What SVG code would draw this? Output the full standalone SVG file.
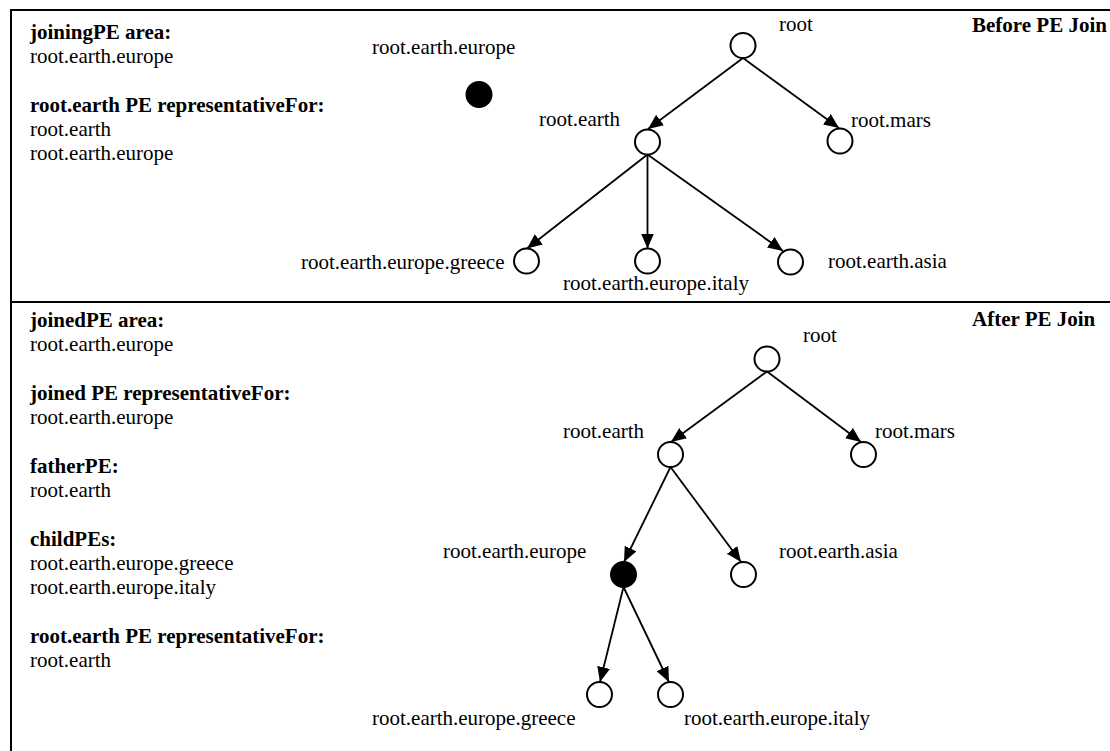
<svg xmlns="http://www.w3.org/2000/svg" width="1110" height="751" viewBox="0 0 1110 751">
  <defs>
    <marker id="arrow" markerUnits="userSpaceOnUse" markerWidth="16" markerHeight="14" refX="15" refY="6.5" orient="auto">
      <path d="M0,0 L15,6.5 L0,13 Z" fill="#000"/>
    </marker>
    <style>
      text { font-family: "Liberation Serif", "Times New Roman", serif; font-size: 21px; fill: #000; }
      .b { font-weight: bold; }
      .frame { stroke: #000; stroke-width: 2; fill: none; }
      .pe { fill: #fff; stroke: #000; stroke-width: 2; }
      .pe.joined { fill: #000; }
      .edge { stroke: #000; stroke-width: 1.8; fill: none; marker-end: url(#arrow); }
    </style>
  </defs>
  <rect width="1110" height="751" fill="#fff"/>

  <!-- frame: top edge, left edge, separator between the two states -->
  <g id="frame">
    <line class="frame" x1="10" y1="10" x2="1110" y2="10"/>
    <line class="frame" x1="11" y1="9" x2="11" y2="751"/>
    <line class="frame" x1="10" y1="302" x2="1110" y2="302"/>
  </g>

  <!-- state before the join -->
  <g id="before-info">
    <text class="b" x="30" y="39">joiningPE area:</text>
    <text x="30" y="63">root.earth.europe</text>
    <text class="b" x="30" y="112">root.earth PE representativeFor:</text>
    <text x="30" y="136">root.earth</text>
    <text x="30" y="160">root.earth.europe</text>
    <text class="b" x="972" y="32">Before PE Join</text>
  </g>

  <g id="before-connectors">
    <line class="edge" x1="743" y1="58" x2="648" y2="129"/>
    <line class="edge" x1="743" y1="58" x2="839" y2="128"/>
    <line class="edge" x1="647.5" y1="154.5" x2="527" y2="248.5"/>
    <line class="edge" x1="647.5" y1="154.5" x2="647.5" y2="248.5"/>
    <line class="edge" x1="647.5" y1="154.5" x2="783" y2="251"/>
  </g>

  <g id="b-root">
    <circle class="pe" cx="743" cy="45.5" r="12.5"/>
    <text x="779" y="31">root</text>
  </g>
  <g id="b-earth">
    <circle class="pe" cx="647.5" cy="142" r="12.5"/>
    <text x="539" y="126">root.earth</text>
  </g>
  <g id="b-mars">
    <circle class="pe" cx="840" cy="141" r="12.5"/>
    <text x="851" y="127">root.mars</text>
  </g>
  <g id="b-europe">
    <circle class="pe joined" cx="479" cy="94.5" r="12.5"/>
    <text x="372" y="54">root.earth.europe</text>
  </g>
  <g id="b-greece">
    <circle class="pe" cx="526.5" cy="261" r="12.5"/>
    <text x="301" y="269">root.earth.europe.greece</text>
  </g>
  <g id="b-italy">
    <circle class="pe" cx="647.5" cy="261" r="12.5"/>
    <text x="563" y="290">root.earth.europe.italy</text>
  </g>
  <g id="b-asia">
    <circle class="pe" cx="790.5" cy="262" r="12.5"/>
    <text x="828" y="268">root.earth.asia</text>
  </g>

  <!-- state after the join -->
  <g id="after-info">
    <text class="b" x="30" y="327">joinedPE area:</text>
    <text x="30" y="351">root.earth.europe</text>
    <text class="b" x="30" y="400">joined PE representativeFor:</text>
    <text x="30" y="424">root.earth.europe</text>
    <text class="b" x="30" y="473">fatherPE:</text>
    <text x="30" y="497">root.earth</text>
    <text class="b" x="30" y="546">childPEs:</text>
    <text x="30" y="570">root.earth.europe.greece</text>
    <text x="30" y="594">root.earth.europe.italy</text>
    <text class="b" x="30" y="643">root.earth PE representativeFor:</text>
    <text x="30" y="667">root.earth</text>
    <text class="b" x="972" y="326">After PE Join</text>
  </g>

  <g id="after-connectors">
    <line class="edge" x1="767" y1="371.5" x2="671" y2="442"/>
    <line class="edge" x1="767" y1="371.5" x2="861" y2="442"/>
    <line class="edge" x1="670.5" y1="467" x2="624" y2="562"/>
    <line class="edge" x1="670.5" y1="467" x2="741" y2="562"/>
    <line class="edge" x1="623.5" y1="587" x2="600" y2="682"/>
    <line class="edge" x1="623.5" y1="587" x2="669" y2="682"/>
  </g>

  <g id="a-root">
    <circle class="pe" cx="767" cy="359" r="12.5"/>
    <text x="803" y="342">root</text>
  </g>
  <g id="a-earth">
    <circle class="pe" cx="670.5" cy="454.5" r="12.5"/>
    <text x="563" y="438">root.earth</text>
  </g>
  <g id="a-mars">
    <circle class="pe" cx="863.5" cy="454.5" r="12.5"/>
    <text x="875" y="438">root.mars</text>
  </g>
  <g id="a-europe">
    <circle class="pe joined" cx="623.5" cy="574.5" r="12.5"/>
    <text x="443" y="558">root.earth.europe</text>
  </g>
  <g id="a-asia">
    <circle class="pe" cx="743.5" cy="574.5" r="12.5"/>
    <text x="779" y="558">root.earth.asia</text>
  </g>
  <g id="a-greece">
    <circle class="pe" cx="599.5" cy="694.5" r="12.5"/>
    <text x="372" y="725">root.earth.europe.greece</text>
  </g>
  <g id="a-italy">
    <circle class="pe" cx="670.5" cy="694.5" r="12.5"/>
    <text x="684" y="725">root.earth.europe.italy</text>
  </g>
</svg>
